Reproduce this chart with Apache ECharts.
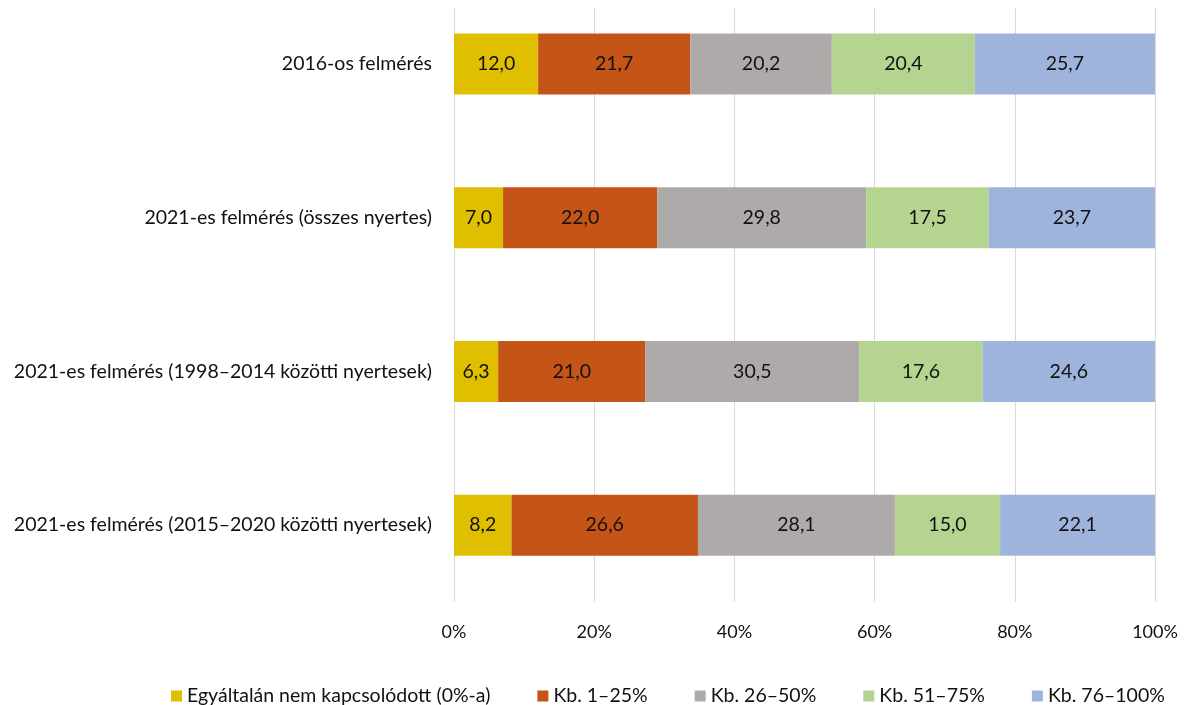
<!DOCTYPE html>
<html><head><meta charset="utf-8">
<script src="https://cdn.jsdelivr.net/npm/echarts@6/dist/echarts.min.js"></script>
<style>html,body{margin:0;padding:0;background:#fff}#c{width:1184px;height:705px}</style>
</head><body><div id="c"></div>
<script>
const categories = [
  "2016-os felmérés",
  "2021-es felmérés (összes nyertes)",
  "2021-es felmérés (1998–2014 közötti nyertesek)",
  "2021-es felmérés (2015–2020 közötti nyertesek)"
];
const seriesNames = ["Egyáltalán nem kapcsolódott (0%-a)", "Kb. 1–25%", "Kb. 26–50%", "Kb. 51–75%", "Kb. 76–100%"];
const s0 = [12.0, 7.0, 6.3, 8.2];
const s1 = [21.7, 22.0, 21.0, 26.6];
const s2 = [20.2, 29.8, 30.5, 28.1];
const s3 = [20.4, 17.5, 17.6, 15.0];
const s4 = [25.7, 23.7, 24.6, 22.1];
const tickLabels = ["0%", "20%", "40%", "60%", "80%", "100%"];

const colors = ["#E0BF00", "#C55417", "#AEAAAA", "#B4D48F", "#9FB4DD"];
const values = [s0, s1, s2, s3, s4];
const font = "Lato, 'Noto Sans', sans-serif";

const chart = echarts.init(document.getElementById('c'));
chart.setOption({
  animation: false,
  color: colors,
  grid: [
    {left: 454, right: 29, top: -13, bottom: 103, containLabel: false, outerBoundsMode: 'none'},
    {left: 454, right: 29, top: 8, bottom: 103, containLabel: false, outerBoundsMode: 'none'}
  ],
  legend: {
    left: 166, top: 681, itemWidth: 11, itemHeight: 11, itemGap: 47,
    icon: 'rect',
    textStyle: {fontFamily: font, fontSize: 19.5, color: '#111'},
    data: seriesNames
  },
  xAxis: [
    {gridIndex: 0, type: 'value', min: 0, max: 100, interval: 20,
     axisLine: {show: false}, axisTick: {show: false}, axisLabel: {show: false}, splitLine: {show: false}},
    {gridIndex: 1, type: 'value', min: 0, max: 100, interval: 20,
     axisLine: {show: false}, axisTick: {show: false},
     splitLine: {show: true, lineStyle: {color: '#D9D9D9', width: 1}},
     axisLabel: {margin: 21, fontFamily: font, fontSize: 18, color: '#111',
       formatter: (v) => tickLabels[Math.round(v / 20)]}}
  ],
  yAxis: [
    {gridIndex: 0, type: 'category', inverse: true, data: categories,
     axisLine: {show: false}, axisTick: {show: false},
     axisLabel: {margin: 22, fontFamily: font, fontSize: 19.5, color: '#111'}},
    {gridIndex: 1, type: 'category', data: [''], show: false}
  ],
  series: values.map((v, i) => ({
    name: seriesNames[i], type: 'bar', stack: 'total', xAxisIndex: 0, yAxisIndex: 0,
    barWidth: 61, data: v,
    itemStyle: {color: colors[i]},
    label: {show: true, position: 'inside', fontFamily: font, fontSize: 19.5, color: '#111',
      formatter: (p) => p.value.toFixed(1).replace('.', ',')}
  }))
});
</script></body></html>
